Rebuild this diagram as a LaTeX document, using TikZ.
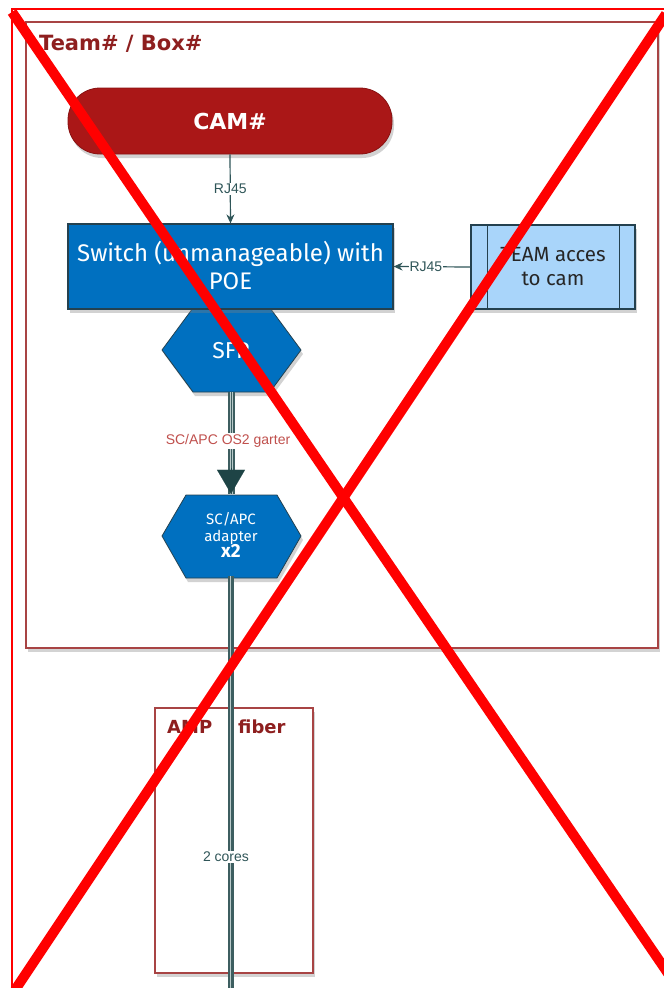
\documentclass[tikz,border=0pt]{standalone}
\usepackage{fontspec}
\setmainfont{Fira Sans}
\newfontfamily\lblfont{Liberation Sans}
\newfontfamily\headfont{DejaVu Sans}
\usetikzlibrary{shadows,arrows.meta}
\definecolor{camred}{HTML}{AA1717}
\definecolor{titlered}{HTML}{8E1F1F}
\definecolor{framered}{HTML}{A84444}
\definecolor{swblue}{HTML}{0070C0}
\definecolor{edgedark}{HTML}{24414F}
\definecolor{lightblue}{HTML}{A9D5FA}
\definecolor{tealtxt}{HTML}{2F5558}
\definecolor{fibdark}{HTML}{3D5E60}
\definecolor{fiblight}{HTML}{B9CACA}
\definecolor{arrdark}{HTML}{1E4446}
\definecolor{garter}{HTML}{C0504D}
\definecolor{xred}{HTML}{FF0000}
\begin{document}
\begin{tikzpicture}[x=1pt,y=-1pt,
  shade/.style={drop shadow={opacity=0.35,shadow xshift=2pt,shadow yshift=-4pt}},
  frame/.style={draw=framered,line width=1.3pt,fill=white,shade},
  titletext/.style={text=titlered,font=\headfont\bfseries\fontsize{21}{24}\selectfont,inner sep=0pt,anchor=west},
  camnode/.style={fill=camred,draw=camred!80!black,line width=0.8pt,rounded corners=32pt,
    minimum width=324pt,minimum height=66pt,text=white,font=\headfont\bfseries\fontsize{22}{26}\selectfont,shade},
  swnode/.style={fill=swblue,draw=edgedark,line width=1.2pt,minimum width=325pt,minimum height=85pt,
    text=white,font=\fontsize{24}{28}\selectfont,align=center,shade},
  teamacc/.style={fill=lightblue,draw=edgedark,line width=1.2pt,minimum width=164pt,minimum height=84pt,
    text=black!85,font=\fontsize{20.5}{24}\selectfont,align=center,shade},
  hexfill/.style={fill=swblue,draw=edgedark,line width=0.8pt,shade},
  hextext/.style={minimum width=138pt,minimum height=82pt,text=white,align=center,inner sep=0pt},
  link/.style={draw=tealtxt,line width=1.2pt,-{Stealth[length=9pt,width=8pt]}},
  lbl/.style={fill=white,text=tealtxt,font=\lblfont\fontsize{14}{16}\selectfont,inner sep=1pt},
  fibre/.style={draw=fibdark,line width=1.6pt,double=fiblight,double distance=2.6pt},
  fibrethick/.style={draw=fibdark,line width=2pt,double=fiblight,double distance=3pt},
  fibcore/.style={draw=fibdark,line width=0.7pt},
  xline/.style={draw=xred,line width=10pt},
  redframe/.style={draw=xred,line width=2pt}
]
\useasboundingbox (0,0) rectangle (664,988);

% team frame
\node[frame,minimum width=632pt,minimum height=626pt] (teambox) at (342,335) {};
\node[titletext] (teamtitle) at (39,44) {Team\# / Box\#};

% CAM
\node[camnode] (cam) at (230,121) {CAM\#};

% SFP hexagon
\path[hexfill] (162,350) -- (193,308) -- (270,308) -- (301,350) -- (270,392) -- (193,392) -- cycle;
\node[hextext,font=\fontsize{23}{26}\selectfont] (sfp) at (231,351) {SFP};

% switch
\node[swnode] (switch) at (230.5,266.5) {};
\node[text=white,font=\fontsize{24}{28}\selectfont,align=center,inner sep=0pt] (swtext) at (230.5,265) {Switch (unmanageable) with\\POE};

% team access
\node[teamacc] (acc) at (553,267) {TEAM acces\\to cam};
\draw[edgedark,line width=1.2pt] ([xshift=17pt]acc.north west) -- ([xshift=17pt]acc.south west);
\draw[edgedark,line width=1.2pt] ([xshift=-16pt]acc.north east) -- ([xshift=-16pt]acc.south east);

% RJ45 links
\draw[link] (cam.south) -- (switch.north) node[lbl,midway] {RJ45};
\draw[link] (acc.west) -- (switch.east) node[lbl,pos=0.58] {RJ45};

% adapter hexagon
\path[hexfill] (162,536) -- (186,495) -- (277,495) -- (301,536) -- (277,578) -- (186,578) -- cycle;
\node[hextext,font=\fontsize{15}{16.5}\selectfont] (adp) at (231,535) {SC/APC\\adapter\\\bfseries\fontsize{19}{19}\selectfont x2};

% fibre SFP -> adapter
\draw[fibrethick] (sfp.south) -- (adp.north);
\draw[fibcore] (sfp.south) -- (adp.north);
\draw[draw=arrdark,line width=0.1pt,-{Triangle[length=24pt,width=28pt,fill=arrdark]}]
  ([yshift=26pt]adp.north) -- (adp.north);
\node[lbl,text=garter] (garterlbl) at (228,441) {SC/APC OS2 garter};

% AMP fiber box
\node[frame,minimum width=158pt,minimum height=265pt] (amp) at (234,840.5) {};
\node[titletext,font=\headfont\bfseries\fontsize{18}{20}\selectfont] (amptitle) at (167,727) {AMP\hspace{26pt}fiber};

% fibre adapter -> down
\coordinate (fibend) at (231,995);
\draw[fibre] (adp.south) -- (fibend);
\draw[fibcore] (adp.south) -- (fibend);
\node[lbl] (cores) at (226,857) {2 cores};

% red frame and cross
\draw[redframe] (12,988) -- (12,9) -- (664,9);
\coordinate (xa) at (12,12);
\coordinate (xb) at (678,988);
\coordinate (xc) at (666,14);
\coordinate (xd) at (15,990);
\draw[xline] (xa) -- (xb);
\draw[xline] (xc) -- (xd);
\end{tikzpicture}
\end{document}
